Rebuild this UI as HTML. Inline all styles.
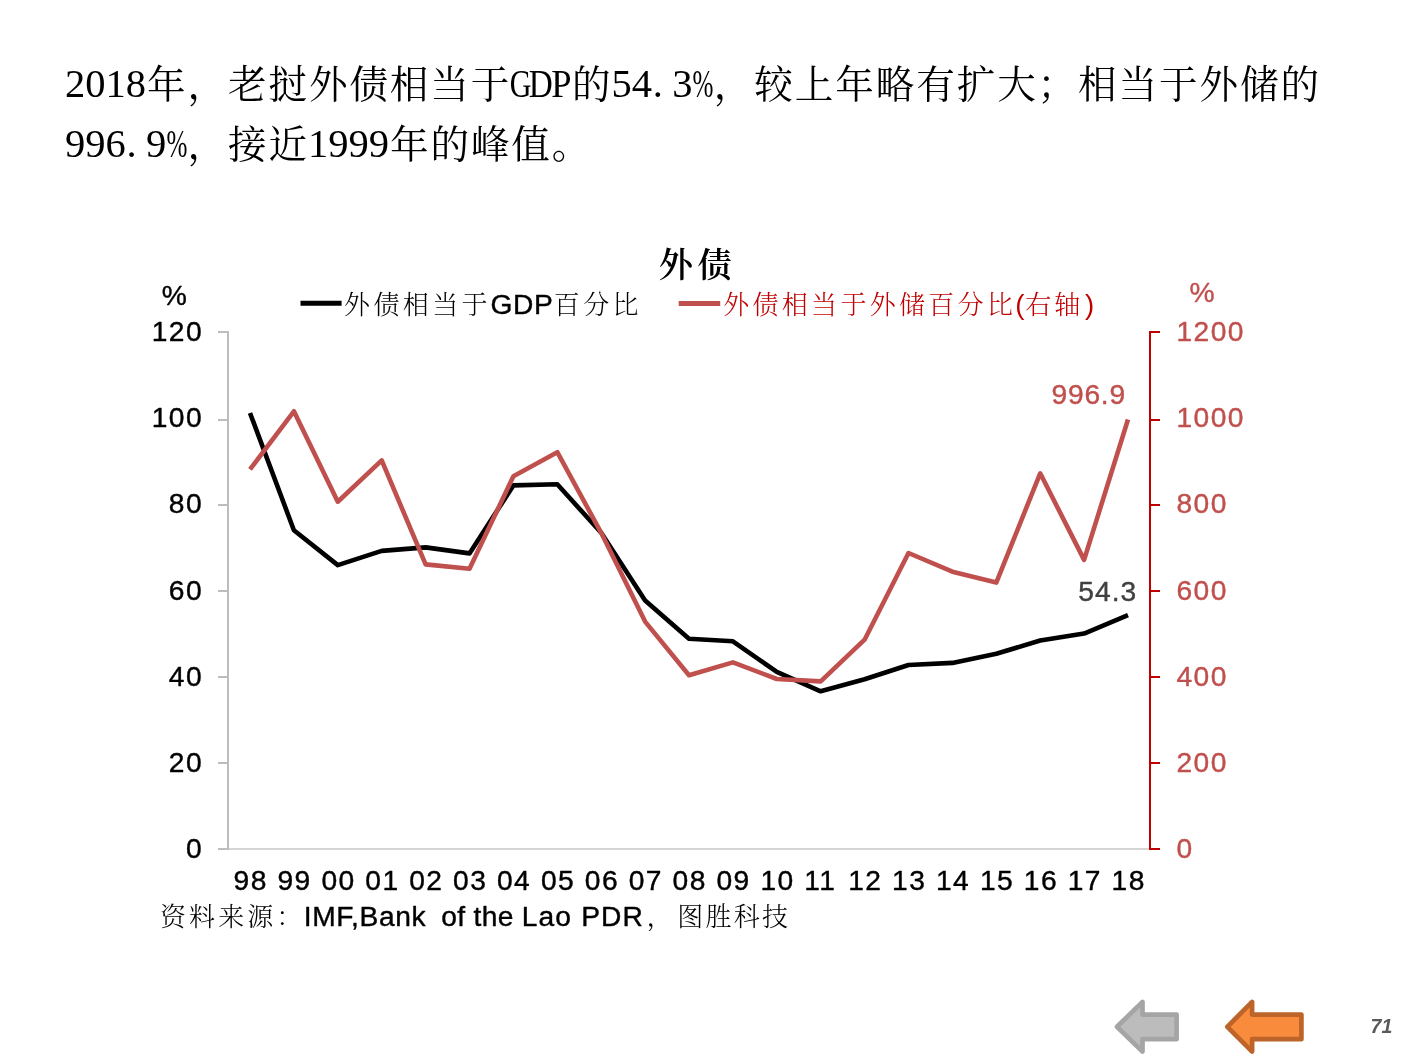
<!DOCTYPE html>
<html lang="zh-CN">
<head>
<meta charset="utf-8">
<title>外债</title>
<style>
html,body{margin:0;padding:0;background:#fff;}
body{width:1411px;height:1058px;position:relative;overflow:hidden;font-family:"Liberation Sans","Noto Serif CJK SC",sans-serif;}
.hl{position:absolute;left:65px;white-space:nowrap;font-family:"Liberation Serif","Noto Serif CJK SC",serif;font-size:40.5px;line-height:60px;color:#000;font-weight:400;text-spacing-trim:space-all;font-kerning:none;}
.hl .h{display:inline-flex;justify-content:center;width:.5em;font-weight:400;}
.hl .d{justify-content:flex-start;padding-left:.02em;box-sizing:border-box;}
.hl .c{font-size:38.6px;letter-spacing:1.9px;position:relative;left:1px;top:1px;}
.hl i{font-style:normal;display:inline-block;}
.hl i.p{transform:scaleX(.62);}
.hl i.gg{transform:scaleX(.74);}
.hl i.gd{transform:scaleX(.82);}
.hl i.gp{transform:scaleX(.9);}
</style>
</head>
<body>
<div class="hl" style="top:54px"><span class="h">2</span><span class="h">0</span><span class="h">1</span><span class="h">8</span><span class="c">年，老挝外债相当于</span><span class="h"><i class="gg">G</i></span><span class="h"><i class="gd">D</i></span><span class="h"><i class="gp">P</i></span><span class="c">的</span><span class="h">5</span><span class="h">4</span><span class="h d">.</span><span class="h">3</span><span class="h"><i class="p">%</i></span><span class="c">，较上年略有扩大；相当于外储的</span></div>
<div class="hl" style="top:113.5px"><span class="h">9</span><span class="h">9</span><span class="h">6</span><span class="h d">.</span><span class="h">9</span><span class="h"><i class="p">%</i></span><span class="c">，接近</span><span class="h">1</span><span class="h">9</span><span class="h">9</span><span class="h">9</span><span class="c">年的峰值。</span></div>
<svg width="1411" height="1058" viewBox="0 0 1411 1058" style="position:absolute;left:0;top:0">
<g shape-rendering="crispEdges">
<rect x="218" y="848" width="932" height="2" fill="#d6d6d6"/>
<rect x="227" y="331" width="2" height="519" fill="#bdbdbd"/>
<rect x="218" y="848.0" width="10" height="2" fill="#bdbdbd"/>
<rect x="218" y="762.0" width="10" height="2" fill="#bdbdbd"/>
<rect x="218" y="676.0" width="10" height="2" fill="#bdbdbd"/>
<rect x="218" y="590.0" width="10" height="2" fill="#bdbdbd"/>
<rect x="218" y="504.0" width="10" height="2" fill="#bdbdbd"/>
<rect x="218" y="418.5" width="10" height="2" fill="#bdbdbd"/>
<rect x="218" y="331.0" width="10" height="2" fill="#bdbdbd"/>
<rect x="1149" y="331" width="2" height="519" fill="#c00000"/>
<rect x="1150" y="848.0" width="10" height="2" fill="#c00000"/>
<rect x="1150" y="762.0" width="10" height="2" fill="#c00000"/>
<rect x="1150" y="676.0" width="10" height="2" fill="#c00000"/>
<rect x="1150" y="590.0" width="10" height="2" fill="#c00000"/>
<rect x="1150" y="504.0" width="10" height="2" fill="#c00000"/>
<rect x="1150" y="418.5" width="10" height="2" fill="#c00000"/>
<rect x="1150" y="331.0" width="10" height="2" fill="#c00000"/>
</g>
<polyline points="250.0,413.0 293.9,530.2 337.8,565.1 381.7,550.9 425.6,547.4 469.5,553.4 513.4,485.4 557.3,484.3 601.2,532.8 645.1,600.4 689.0,638.8 732.9,641.3 776.8,671.9 820.7,691.3 864.6,679.3 908.5,665.0 952.4,662.9 996.3,653.8 1040.2,640.5 1084.1,633.6 1128.0,615.1" fill="none" stroke="#000" stroke-width="4.6" stroke-linejoin="round" stroke-linecap="butt"/>
<polyline points="250.0,469.4 293.9,411.3 337.8,501.7 381.7,460.4 425.6,564.4 469.5,568.8 513.4,476.3 557.3,452.2 601.2,532.8 645.1,621.6 689.0,675.2 732.9,662.4 776.8,679.0 820.7,681.4 864.6,639.7 908.5,553.0 952.4,571.7 996.3,582.6 1040.2,473.3 1084.1,559.9 1128.0,419.5" fill="none" stroke="#c0504d" stroke-width="4.6" stroke-linejoin="round" stroke-linecap="butt"/>
<line x1="300.5" y1="303.3" x2="341.6" y2="303.3" stroke="#000" stroke-width="5"/>
<line x1="678.7" y1="303.5" x2="720.2" y2="303.5" stroke="#c0504d" stroke-width="5"/>
<g font-family="'Liberation Sans', 'Noto Serif CJK SC', sans-serif" font-size="28.20" stroke-width="0.4" stroke-linejoin="round">
<text x="185.9" y="858.0" letter-spacing="1.42" fill="#000" stroke="#000">0</text>
<text x="1176.5" y="858.0" letter-spacing="1.42" fill="#c0504d" stroke="#c0504d">0</text>
<text x="168.8" y="771.8" letter-spacing="1.42" fill="#000" stroke="#000">20</text>
<text x="1176.5" y="771.8" letter-spacing="1.42" fill="#c0504d" stroke="#c0504d">200</text>
<text x="168.8" y="685.7" letter-spacing="1.42" fill="#000" stroke="#000">40</text>
<text x="1176.5" y="685.7" letter-spacing="1.42" fill="#c0504d" stroke="#c0504d">400</text>
<text x="168.8" y="599.5" letter-spacing="1.42" fill="#000" stroke="#000">60</text>
<text x="1176.5" y="599.5" letter-spacing="1.42" fill="#c0504d" stroke="#c0504d">600</text>
<text x="168.8" y="513.3" letter-spacing="1.42" fill="#000" stroke="#000">80</text>
<text x="1176.5" y="513.3" letter-spacing="1.42" fill="#c0504d" stroke="#c0504d">800</text>
<text x="151.7" y="427.2" letter-spacing="1.42" fill="#000" stroke="#000">100</text>
<text x="1176.5" y="427.2" letter-spacing="1.42" fill="#c0504d" stroke="#c0504d">1000</text>
<text x="151.7" y="341.0" letter-spacing="1.42" fill="#000" stroke="#000">120</text>
<text x="1176.5" y="341.0" letter-spacing="1.42" fill="#c0504d" stroke="#c0504d">1200</text>
<text x="233.6" y="889.5" letter-spacing="1.42" fill="#000" stroke="#000">98</text>
<text x="277.5" y="889.5" letter-spacing="1.42" fill="#000" stroke="#000">99</text>
<text x="321.4" y="889.5" letter-spacing="1.42" fill="#000" stroke="#000">00</text>
<text x="365.3" y="889.5" letter-spacing="1.42" fill="#000" stroke="#000">01</text>
<text x="409.2" y="889.5" letter-spacing="1.42" fill="#000" stroke="#000">02</text>
<text x="453.1" y="889.5" letter-spacing="1.42" fill="#000" stroke="#000">03</text>
<text x="497.0" y="889.5" letter-spacing="1.42" fill="#000" stroke="#000">04</text>
<text x="540.9" y="889.5" letter-spacing="1.42" fill="#000" stroke="#000">05</text>
<text x="584.8" y="889.5" letter-spacing="1.42" fill="#000" stroke="#000">06</text>
<text x="628.7" y="889.5" letter-spacing="1.42" fill="#000" stroke="#000">07</text>
<text x="672.6" y="889.5" letter-spacing="1.42" fill="#000" stroke="#000">08</text>
<text x="716.5" y="889.5" letter-spacing="1.42" fill="#000" stroke="#000">09</text>
<text x="760.4" y="889.5" letter-spacing="1.42" fill="#000" stroke="#000">10</text>
<text x="804.3" y="889.5" letter-spacing="1.42" fill="#000" stroke="#000">11</text>
<text x="848.2" y="889.5" letter-spacing="1.42" fill="#000" stroke="#000">12</text>
<text x="892.1" y="889.5" letter-spacing="1.42" fill="#000" stroke="#000">13</text>
<text x="936.0" y="889.5" letter-spacing="1.42" fill="#000" stroke="#000">14</text>
<text x="979.9" y="889.5" letter-spacing="1.42" fill="#000" stroke="#000">15</text>
<text x="1023.8" y="889.5" letter-spacing="1.42" fill="#000" stroke="#000">16</text>
<text x="1067.7" y="889.5" letter-spacing="1.42" fill="#000" stroke="#000">17</text>
<text x="1111.6" y="889.5" letter-spacing="1.42" fill="#000" stroke="#000">18</text>
<text x="161.8" y="304.6" fill="#000" stroke="#000">%</text>
<text x="1189.5" y="302.0" fill="#c0504d" stroke="#c0504d">%</text>
<text x="1051.6" y="403.5" letter-spacing="0.75" fill="#c0504d" stroke="#c0504d">996.9</text>
<text x="1078.3" y="600.5" letter-spacing="1.00" fill="#404040" stroke="#404040">54.3</text>
<text x="344.0" y="314.0" letter-spacing="3.40" fill="#000" font-family="'Noto Serif CJK SC', serif" font-weight="300" font-size="26">外债相当于</text>
<text x="490.4" y="314.0" letter-spacing="0.70" fill="#000" stroke="#000">GDP</text>
<text x="553.8" y="314.0" letter-spacing="3.40" fill="#000" font-family="'Noto Serif CJK SC', serif" font-weight="300" font-size="26">百分比</text>
<text x="723.2" y="314.0" letter-spacing="3.30" fill="#c00000" font-family="'Noto Serif CJK SC', serif" font-weight="300" font-size="26">外债相当于外储百分比</text>
<text x="1015.2" y="314.0" fill="#c00000" font-size="27.6">(</text>
<text x="1025.3" y="314.0" letter-spacing="3.00" fill="#c00000" font-family="'Noto Serif CJK SC', serif" font-weight="300" font-size="26">右轴</text>
<text x="1085.0" y="314.0" fill="#c00000" font-size="27.6">)</text>
<text x="160.0" y="926.0" letter-spacing="3.10" fill="#000" font-family="'Noto Serif CJK SC', serif" font-weight="300" font-size="26">资料来源：</text>
<text x="303.8" y="926.0" letter-spacing="0.63" fill="#000" stroke="#000">IMF,Bank</text>
<text x="441.3" y="926.0" letter-spacing="0.30" fill="#000" stroke="#000">of the</text>
<text x="521.7" y="926.0" letter-spacing="1.15" fill="#000" stroke="#000">Lao PDR</text>
<text x="646.5" y="926.0" fill="#000" font-family="'Noto Serif CJK SC', serif" font-weight="300" font-size="26">，</text>
<text x="677.3" y="926.0" letter-spacing="2.20" fill="#000" font-family="'Noto Serif CJK SC', serif" font-weight="300" font-size="26">图胜科技</text>
</g>
<text x="658.8" y="276.6" font-family="'Noto Serif CJK SC', serif" font-weight="600" font-size="34.2" letter-spacing="4.5" fill="#000">外债</text>
<text x="1370.5" y="1032.6" font-family="'Liberation Sans', sans-serif" font-weight="700" font-style="italic" font-size="19.6" fill="#595959">71</text>
<path d="M1117.0,1026.8 L1142.5,1001.9 L1142.5,1014.6 L1176.6,1014.6 L1176.6,1039.2 L1142.5,1039.2 L1142.5,1051.6 Z" fill="#bcbcbc" stroke="#a5a5a5" stroke-width="4.7" stroke-linejoin="round"/>
<path d="M1227.3,1026.8 L1252.1,1001.9 L1252.1,1014.6 L1301.4,1014.6 L1301.4,1039.2 L1252.1,1039.2 L1252.1,1051.6 Z" fill="#f98b3c" stroke="#bc6429" stroke-width="4.7" stroke-linejoin="round"/>
</svg>
</body>
</html>
